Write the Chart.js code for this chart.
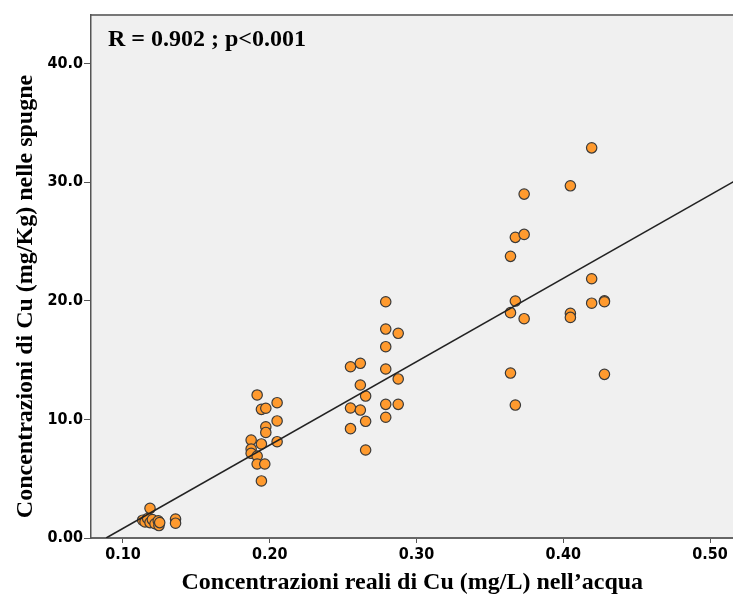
<!DOCTYPE html>
<html lang="it">
<head>
<meta charset="utf-8">
<title>Cu acqua vs spugne</title>
<script src="https://cdn.jsdelivr.net/npm/chart.js@4.4.1/dist/chart.umd.min.js"></script>
<style>
    html, body { margin: 0; padding: 0; background: #ffffff; overflow: hidden; }
    #wrap { width: 740px; height: 601px; }
</style>
</head>
<body>
<div id="wrap"><canvas id="cuChart" width="740" height="601"></canvas></div>
<script>
// Valori: concentrazione in acqua (mg/L) e nelle spugne (mg/Kg)
const concAcqua = [
    0.1134, 0.1150, 0.1168, 0.1184, 0.1184, 0.1200, 0.1218, 0.1240, 0.1245, 0.1250, 0.1358, 0.1358,
    0.1873, 0.1873, 0.1873, 0.1914, 0.1914, 0.1914, 0.1943, 0.1943, 0.1943, 0.1973, 0.1973, 0.1973, 0.1966, 0.2050, 0.2050, 0.2050,
    0.2550, 0.2550, 0.2550, 0.2617, 0.2617, 0.2617, 0.2653, 0.2653, 0.2653,
    0.2790, 0.2790, 0.2790, 0.2790, 0.2790, 0.2790, 0.2875, 0.2875, 0.2875,
    0.3640, 0.3640, 0.3640, 0.3673, 0.3673, 0.3673, 0.3733, 0.3733, 0.3733,
    0.4048, 0.4048, 0.4048, 0.4193, 0.4193, 0.4193, 0.4280, 0.4280, 0.4280
];
const concSpugne = [
    1.50, 1.35, 1.65, 2.50, 1.30, 1.55, 1.20, 1.45, 1.05, 1.30, 1.60, 1.25,
    8.26, 7.50, 7.14, 12.06, 6.91, 6.24, 10.85, 7.93, 4.81, 10.94, 9.38, 8.90, 6.24, 11.41, 9.87, 8.12,
    14.44, 10.96, 9.22, 14.73, 12.90, 10.79, 11.97, 9.84, 7.42,
    19.92, 17.62, 16.13, 14.25, 11.27, 10.18, 17.26, 13.41, 11.27,
    23.75, 19.00, 13.91, 25.35, 19.98, 11.21, 29.00, 25.60, 18.49,
    29.70, 18.95, 18.60, 32.90, 21.86, 19.80, 20.00, 19.92, 13.80
];

// Retta di regressione (estremi)
const rettaX = [0.0885, 0.516];
const rettaY = [0, 30.05];

// Tacche degli assi
const xTicks = [0.10, 0.20, 0.30, 0.40, 0.50];
const xTickLabels = ['0.10', '0.20', '0.30', '0.40', '0.50'];
const yTicks = [0, 10, 20, 30, 40];
const yTickLabels = ['0.00', '10.0', '20.0', '30.0', '40.0'];

const annotazione = 'R = 0.902 ; p<0.001';
const titoloX = 'Concentrazioni reali di Cu (mg/L) nell\u2019acqua';
const titoloY = 'Concentrazioni di Cu (mg/Kg) nelle spugne';

const fontSerif = '"Liberation Serif", "DejaVu Serif", serif';
const fontTitoli = { family: fontSerif, size: 24, weight: 'bold' };
const fontTacche = { family: '"Liberation Sans Narrow", "DejaVu Sans Condensed", "Liberation Sans", sans-serif', size: 16, weight: 'bold' };

// Sfondo grigio dell'area del grafico, bordo superiore, testo R / p e titolo asse Y
const sfondoPlugin = {
    id: 'sfondo',
    beforeDraw(chart) {
        const { ctx, chartArea: a } = chart;
        ctx.save();
        ctx.fillStyle = '#f0f0f0';
        ctx.fillRect(a.left, a.top, a.right - a.left, a.bottom - a.top);
        ctx.strokeStyle = '#777777';
        ctx.lineWidth = 2;
        ctx.beginPath();
        ctx.moveTo(a.left, a.top);
        ctx.lineTo(a.right, a.top);
        ctx.stroke();
        ctx.restore();
    },
    afterDraw(chart) {
        const { ctx, chartArea: a } = chart;
        ctx.save();
        ctx.fillStyle = '#000000';
        ctx.font = 'bold 24px ' + fontSerif;
        ctx.textBaseline = 'middle';
        ctx.fillText(annotazione, a.left + 17, a.top + 25);

        // titolo verticale, un po' più in basso del centro dell'area
        ctx.translate(26, a.top + (a.bottom - a.top) / 2 + 20);
        ctx.rotate(-Math.PI / 2);
        ctx.textAlign = 'center';
        ctx.fillText(titoloY, 0, 0);
        ctx.restore();
    }
};

function creaGrafico() {
    const ctx = document.getElementById('cuChart').getContext('2d');
    const punti = concAcqua.map((x, i) => ({ x: x, y: concSpugne[i] }));
    const retta = rettaX.map((x, i) => ({ x: x, y: rettaY[i] }));

    new Chart(ctx, {
        type: 'scatter',
        data: {
            datasets: [
                {
                    type: 'line',
                    data: retta,
                    borderColor: '#222222',
                    borderWidth: 1.6,
                    pointRadius: 0,
                    fill: false,
                    order: 0
                },
                {
                    data: punti,
                    backgroundColor: '#ff9a2e',
                    borderColor: '#3a3a3a',
                    borderWidth: 1.2,
                    pointRadius: 5.2,
                    order: 1
                }
            ]
        },
        options: {
            responsive: false,
            animation: false,
            layout: { padding: { top: 15, right: 0, bottom: 0, left: 0 } },
            plugins: {
                legend: { display: false },
                tooltip: { enabled: false }
            },
            scales: {
                x: {
                    type: 'linear',
                    min: 0.0782,
                    max: 0.516,
                    afterBuildTicks: (scale) => { scale.ticks = xTicks.map(v => ({ value: v })); },
                    afterFit: (scale) => { scale.height = 63; },
                    ticks: {
                        color: '#000000',
                        font: fontTacche,
                        padding: 2,
                        maxRotation: 0,
                        callback: (value) => xTickLabels[xTicks.indexOf(value)]
                    },
                    grid: { drawOnChartArea: false, drawTicks: true, tickLength: 5, color: '#555555' },
                    border: { display: true, color: '#666666', width: 2 },
                    title: { display: true, text: titoloX, color: '#000000', font: fontTitoli, padding: { top: 0, bottom: 4 } }
                },
                y: {
                    type: 'linear',
                    min: 0,
                    max: 44.1,
                    afterBuildTicks: (scale) => { scale.ticks = yTicks.map(v => ({ value: v })); },
                    afterFit: (scale) => { scale.width = 91; },
                    ticks: {
                        color: '#000000',
                        font: fontTacche,
                        padding: 1,
                        callback: (value) => yTickLabels[yTicks.indexOf(value)]
                    },
                    grid: { drawOnChartArea: false, drawTicks: true, tickLength: 7, color: '#555555' },
                    border: { display: true, color: '#555555', width: 1.5 },
                    title: { display: false }
                }
            }
        },
        plugins: [sfondoPlugin]
    });
}

document.addEventListener('DOMContentLoaded', creaGrafico);
</script>
</body>
</html>
